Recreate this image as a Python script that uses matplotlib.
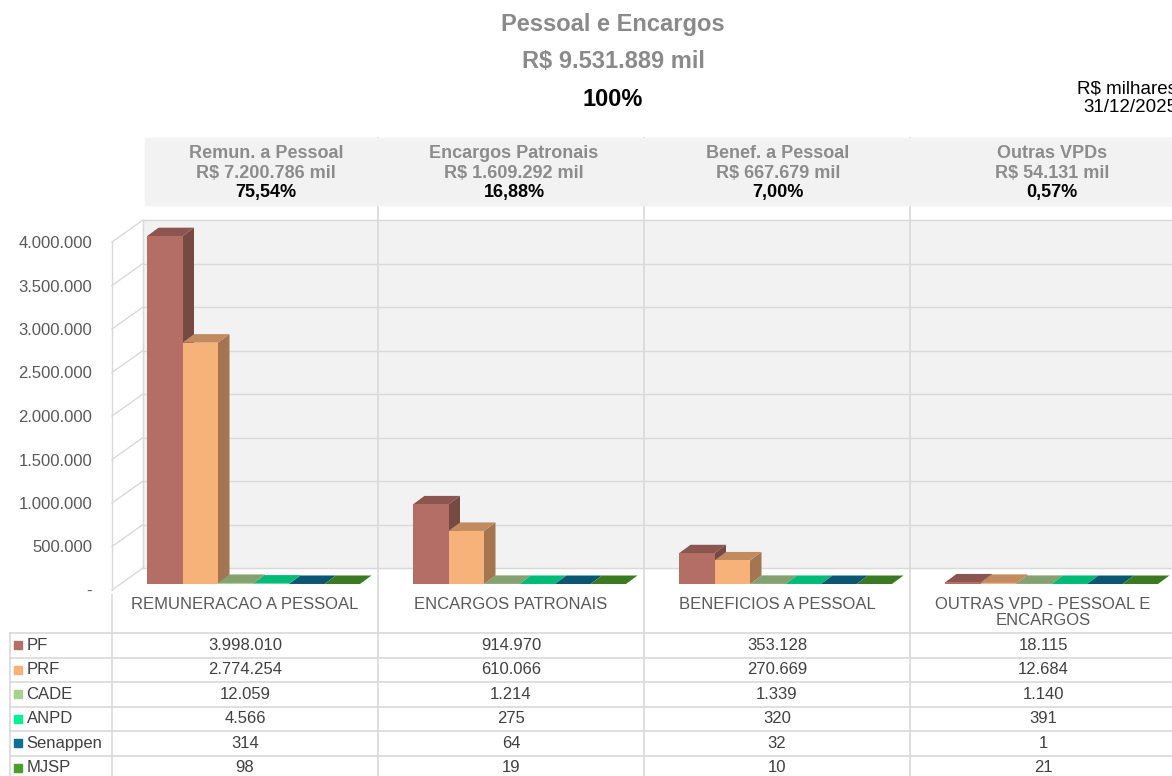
import matplotlib
matplotlib.use("Agg")
import matplotlib.pyplot as plt
from matplotlib.patches import Polygon, Rectangle
from matplotlib.lines import Line2D
from matplotlib.colors import to_rgb
from matplotlib.transforms import blended_transform_factory

plt.rcParams['font.family'] = ['Liberation Sans', 'DejaVu Sans']

# ── Data ─────────────────────────────────────────────────────────────────────
categories = ["REMUNERACAO A PESSOAL", "ENCARGOS PATRONAIS",
              "BENEFICIOS A PESSOAL", "OUTRAS VPD - PESSOAL E\nENCARGOS"]
series = ["PF", "PRF", "CADE", "ANPD", "Senappen", "MJSP"]
pf       = [3998010, 914970, 353128, 18115]
prf      = [2774254, 610066, 270669, 12684]
cade     = [12059, 1214, 1339, 1140]
anpd     = [4566, 275, 320, 391]
senappen = [314, 64, 32, 1]
mjsp     = [98, 19, 10, 21]
values = [pf, prf, cade, anpd, senappen, mjsp]
colors = ["#b46e66", "#f7b27a", "#a9d08e", "#00f09a", "#0e6f94", "#4a9e2c"]

group_titles = ["Remun. a Pessoal", "Encargos Patronais", "Benef. a Pessoal", "Outras VPDs"]
group_totals = ["R$ 7.200.786 mil", "R$ 1.609.292 mil", "R$ 667.679 mil", "R$ 54.131 mil"]
group_shares = ["75,54%", "16,88%", "7,00%", "0,57%"]
yticks = [0, 500000, 1000000, 1500000, 2000000, 2500000, 3000000, 3500000, 4000000]

# ── Layout (pixels, origin top-left) ─────────────────────────────────────────
W, H = 1172, 776
CAT_W = 266
WALL = (31, 22)       # depth of side wall
PLANE = (8.5, 6)      # bar front plane inside the box
DEPTH = (11.5, 8.5)   # bar depth
BAR_W = 35.5
GAP = 26.5
HEADER_X = [266, 514, 778, 1052]
ROW_TOP, ROW_H = 633, 24.5
GRID = "#d9d9d9"


def fx(px):
    return px / W


def fy(py):
    return 1 - py / H


def fmt(v):
    return f"{v:,}".replace(",", ".")


def shade(c, f):
    return tuple(x * f for x in to_rgb(c))


fig = plt.figure(figsize=(W / 100, H / 100), dpi=100)
ax = fig.add_axes([fx(112), fy(590), 4 * CAT_W / W, (590 - 242) / H])
ax.set_xlim(0, 4)
ax.set_ylim(0, 4000000)
ax.patch.set_visible(False)
for s in ax.spines.values():
    s.set_visible(False)
ax.set_xticks([])
ax.set_yticks(yticks)
ax.set_yticklabels(["-" if v == 0 else fmt(v) for v in yticks])
ax.tick_params(axis='y', length=0, pad=14.4, labelsize=12, labelcolor="#595959")

UX = 1 / CAT_W
UY = 4000000 / 348.0
wx, wy = WALL[0] * UX, WALL[1] * UY
bt = blended_transform_factory(ax.transData, fig.transFigure)

# ── Titles ───────────────────────────────────────────────────────────────────
fig.text(fx(613), fy(25), "Pessoal e Encargos", ha='center', va='center',
         fontsize=17, fontweight='bold', color="#8a8a8a")
fig.text(fx(613), fy(62), "R$ 9.531.889 mil", ha='center', va='center',
         fontsize=17, fontweight='bold', color="#8a8a8a")
fig.text(fx(613), fy(100), "100%", ha='center', va='center',
         fontsize=17, fontweight='bold', color="black")
fig.text(fx(1177), fy(89), "R$ milhares", ha='right', va='center', fontsize=13.5)
fig.text(fx(1177), fy(108), "31/12/2025", ha='right', va='center', fontsize=13.5)

# ── Header band ──────────────────────────────────────────────────────────────
fig.patches.append(Rectangle((fx(145), fy(205)), 1 - fx(145), (205 - 138) / H,
                             transform=fig.transFigure, color="#f2f2f2", zorder=0))
for i in range(4):
    fig.text(fx(HEADER_X[i]), fy(153), group_titles[i], ha='center', va='center',
             fontsize=13, fontweight='bold', color="#8c8c8c")
    fig.text(fx(HEADER_X[i]), fy(173), group_totals[i], ha='center', va='center',
             fontsize=13, fontweight='bold', color="#8c8c8c")
    fig.text(fx(HEADER_X[i]), fy(193), group_shares[i], ha='center', va='center',
             fontsize=13, fontweight='bold', color="black")

# ── Walls ────────────────────────────────────────────────────────────────────
ax.add_patch(Rectangle((wx, wy), 4.2, 4000000, color="#f2f2f2", zorder=0, clip_on=False))
for v in yticks:
    ax.plot([wx, 4.2], [v + wy, v + wy], color=GRID, lw=1, zorder=1, clip_on=False)
    ax.plot([0, wx], [v, v + wy], color=GRID, lw=1, zorder=1, clip_on=False)
ax.plot([0, 0], [0, 4000000], color=GRID, lw=1, zorder=1, clip_on=False)
ax.plot([wx, wx], [wy, 4000000 + wy], color=GRID, lw=1, zorder=1, clip_on=False)

# ── Bars ─────────────────────────────────────────────────────────────────────
dx, dy = DEPTH[0] * UX, DEPTH[1] * UY
y0 = PLANE[1] * UY
for c in range(4):
    for s in range(len(series)):
        v = values[s][c]
        x0 = c + (PLANE[0] + GAP + s * BAR_W) * UX
        w = BAR_W * UX
        col = colors[s]
        side = [(x0 + w, y0), (x0 + w, y0 + v), (x0 + w + dx, y0 + v + dy), (x0 + w + dx, y0 + dy)]
        top = [(x0, y0 + v), (x0 + w, y0 + v), (x0 + w + dx, y0 + v + dy), (x0 + dx, y0 + v + dy)]
        ax.add_patch(Polygon(side, closed=True, facecolor=shade(col, 0.66), lw=0, zorder=3, clip_on=False))
        ax.add_patch(Polygon(top, closed=True, facecolor=shade(col, 0.78), lw=0, zorder=3, clip_on=False))
        ax.add_patch(Rectangle((x0, y0), w, v, facecolor=col, lw=0, zorder=3, clip_on=False))

# ── Category separators and labels ───────────────────────────────────────────
for k in range(1, 4):
    ax.plot([k, k], [fy(138), 0], color=GRID, lw=1.2, transform=bt, zorder=5, clip_on=False)
ax.plot([0, 0], [fy(595), 0], color=GRID, lw=1.2, transform=bt, zorder=5, clip_on=False)
for c, name in enumerate(categories):
    ax.text(c + 0.5, fy(597), name, transform=bt, ha='center', va='top',
            fontsize=12, color="#595959", linespacing=1.12)

# ── Data table ───────────────────────────────────────────────────────────────
for r in range(len(series) + 1):
    y = ROW_TOP + r * ROW_H
    fig.add_artist(Line2D([fx(10), 1], [fy(y), fy(y)], color=GRID, lw=1.2))
fig.add_artist(Line2D([fx(10), fx(10)], [fy(ROW_TOP), 0], color=GRID, lw=1.2))
for s, name in enumerate(series):
    yc = fy(ROW_TOP + (s + 0.5) * ROW_H)
    fig.patches.append(Rectangle((fx(14), yc - 4 / H), 8 / W, 8 / H,
                                 transform=fig.transFigure, color=colors[s]))
    fig.text(fx(26.5), yc, name, ha='left', va='center', fontsize=12, color="#404040")
    for c in range(4):
        ax.text(c + 0.5, yc, fmt(values[s][c]), transform=bt, ha='center', va='center',
                fontsize=12, color="#404040")

fig.savefig("out.png", dpi=100)
